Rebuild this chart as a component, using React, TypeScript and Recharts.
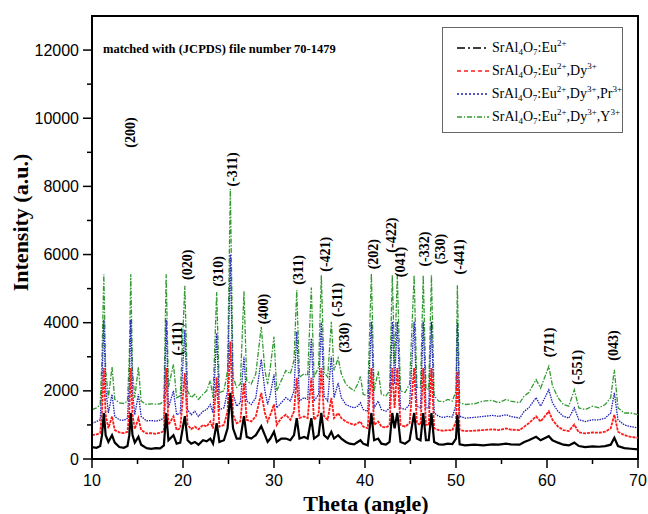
import {
  LineChart,
  Line,
  XAxis,
  YAxis,
  Legend,
  Label,
  ReferenceArea,
  ReferenceDot,
} from "recharts";

// 2-theta positions shared by all four patterns
const theta = [
  10.0, 10.5, 10.9, 11.1, 11.3, 11.5, 11.8, 12.2, 12.5, 13.0, 13.5, 13.9, 14.1,
  14.26, 14.45, 14.7, 15.1, 15.4, 16.0, 16.5, 17.0, 17.5, 17.9, 18.15, 18.4,
  18.95, 19.3, 19.7, 20.2, 20.5, 20.9, 21.3, 21.7, 22.2, 22.6, 23.0, 23.3, 23.7,
  24.0, 24.5, 24.9, 25.2, 25.5, 25.9, 26.3, 26.7, 27.0, 27.5, 28.0, 28.6, 29.0,
  29.3, 29.6, 30.0, 30.3, 30.8, 31.3, 31.8, 32.2, 32.5, 32.8, 33.3, 33.7, 34.1,
  34.4, 34.9, 35.2, 35.5, 35.9, 36.3, 36.6, 37.05, 37.4, 37.9, 38.3, 38.8, 39.2,
  39.5, 39.8, 40.3, 40.7, 41.0, 41.45, 41.8, 42.3, 42.7, 43.0, 43.25, 43.55,
  43.9, 44.4, 44.9, 45.4, 45.7, 46.1, 46.4, 46.7, 47.0, 47.3, 47.6, 48.1, 48.6,
  49.1, 49.6, 50.0, 50.15, 50.4, 51.0, 52.0, 53.0, 54.0, 54.7, 55.5, 56.0, 57.0,
  57.5, 58.0, 58.8, 59.3, 60.2, 60.6, 61.2, 61.8, 62.4, 63.0, 63.5, 64.2, 65.0,
  65.7, 66.4, 67.0, 67.4, 67.8, 68.5, 69.2, 70.0,
];

const eu = [
  350, 330, 380, 700, 1350, 700, 500, 700, 480, 350, 330, 380, 700, 1350, 700,
  480, 650, 420, 320, 300, 320, 310, 400, 1350, 550, 700, 450, 480, 1260, 550,
  450, 500, 420, 550, 520, 600, 450, 1050, 500, 550, 900, 1940, 900, 600, 600,
  1260, 650, 600, 700, 960, 700, 500, 600, 800, 500, 600, 600, 550, 700, 1200,
  600, 650, 600, 1200, 600, 700, 1350, 700, 600, 800, 600, 700, 600, 500, 450,
  430, 500, 550, 450, 400, 1350, 550, 600, 450, 420, 500, 1350, 900, 1350, 500,
  450, 550, 1350, 600, 550, 1350, 550, 550, 1350, 500, 430, 420, 450, 440, 600,
  1300, 430, 400, 420, 400, 430, 420, 450, 430, 420, 500, 550, 650, 550, 670,
  550, 480, 420, 400, 480, 380, 350, 370, 360, 380, 420, 620, 380, 320, 300, 280,
];

const euDy = [
  700, 720, 760, 1400, 2670, 1300, 900, 1250, 850, 780, 760, 800, 1400, 2670,
  1300, 880, 1200, 850, 750, 760, 740, 770, 820, 2670, 1000, 1250, 850, 900,
  2520, 1000, 880, 950, 870, 1000, 950, 1100, 900, 2400, 950, 1000, 1400, 3450,
  1300, 1050, 1100, 2230, 1150, 1100, 1250, 1940, 1350, 1100, 1300, 1600, 1000,
  1200, 1300, 1150, 1400, 2380, 1200, 1250, 1200, 2380, 1150, 1300, 2670, 1250,
  1150, 1790, 1200, 1350, 1200, 1100, 1050, 1000, 1050, 1100, 950, 900, 2670,
  1000, 1100, 950, 920, 1000, 2670, 1500, 2670, 1000, 950, 1050, 2670, 1050,
  1000, 2670, 1000, 1000, 2670, 900, 850, 830, 850, 840, 1100, 2570, 850, 820,
  830, 850, 870, 850, 900, 860, 850, 950, 1050, 1250, 1100, 1400, 1150, 950, 850,
  820, 1010, 780, 750, 780, 770, 800, 900, 1300, 800, 700, 650, 620,
];

const euDyPr = [
  1050, 1100, 1150, 2200, 4090, 2100, 1350, 1900, 1250, 1150, 1130, 1200, 2200,
  4090, 2000, 1300, 1900, 1250, 1120, 1130, 1110, 1140, 1200, 4090, 1500, 2000,
  1300, 1350, 3790, 1450, 1300, 1400, 1250, 1400, 1450, 1600, 1350, 3690, 1450,
  1500, 2000, 6000, 1900, 1550, 1650, 3000, 1700, 1600, 1800, 2920, 2000, 1600,
  1900, 2480, 1500, 1650, 1800, 1700, 2000, 3740, 1700, 1800, 1750, 3540, 1700,
  1900, 4030, 1850, 1700, 3010, 1800, 2230, 1800, 1600, 1550, 1500, 1550, 1650,
  1450, 1400, 4030, 1500, 1700, 1450, 1400, 1500, 4030, 2200, 4030, 1500, 1450,
  1600, 4030, 1550, 1500, 4030, 1500, 1500, 4030, 1350, 1250, 1220, 1250, 1230,
  1600, 4000, 1250, 1200, 1220, 1250, 1280, 1250, 1300, 1250, 1200, 1400, 1500,
  1800, 1550, 2030, 1650, 1400, 1250, 1200, 1500, 1150, 1100, 1150, 1150, 1200,
  1350, 1940, 1150, 1000, 950, 910,
];

const euDyY = [
  1450, 1500, 1600, 3000, 5420, 2600, 1800, 2700, 1750, 1650, 1630, 1700, 3000,
  5420, 2600, 1800, 2700, 1700, 1600, 1620, 1610, 1620, 1700, 5420, 2100, 2780,
  1800, 1850, 5080, 2000, 1800, 1900, 1750, 1900, 2000, 2300, 1800, 4900, 1950,
  2000, 2600, 7920, 2400, 2100, 2200, 4920, 2300, 2200, 2500, 3880, 2600, 2200,
  2700, 3590, 2000, 2300, 2600, 2500, 2900, 4950, 2400, 2500, 2450, 5030, 2400,
  2700, 5390, 2550, 2400, 4030, 2600, 2960, 2500, 2200, 2100, 2000, 2200, 2420,
  1900, 1850, 5440, 2000, 2570, 1900, 1850, 2000, 5390, 2800, 5390, 2000, 1950,
  2200, 5390, 2100, 2100, 5390, 2050, 2050, 5390, 1850, 1700, 1680, 1750, 1700,
  2000, 5100, 1650, 1600, 1620, 1700, 1720, 1650, 1750, 1700, 1650, 1850, 1950,
  2330, 2080, 2720, 2150, 1800, 1600, 1550, 2030, 1500, 1450, 1550, 1500, 1600,
  1800, 2620, 1500, 1350, 1350, 1300,
];

// Miller index labels above the peaks
const peakLabels = [
  "(200)", "(-111)", "(020)", "(310)", "(-311)", "(400)", "(311)", "(-421)",
  "(-511)", "(330)", "(202)", "(-422)", "(041)", "(-332)", "(530)", "(-441)",
  "(711)", "(-551)", "(043)",
];
const peakLabelTheta = [
  14.2, 19.3, 20.4, 23.9, 25.4, 28.8, 32.6, 35.6, 36.9, 37.7, 40.9, 42.9, 43.9,
  46.5, 48.3, 50.3, 60.2, 63.3, 67.3,
];
const peakLabelY = [
  9580, 3530, 5700, 5510, 8500, 4400, 5550, 6010, 4670, 3560, 6010, 6570, 5780,
  6160, 6160, 5930, 3420, 2690, 3330,
];

const seriesNames = [
  "SrAl4O7:Eu2+",
  "SrAl4O7:Eu2+,Dy3+",
  "SrAl4O7:Eu2+,Dy3+,Pr3+",
  "SrAl4O7:Eu2+,Dy3+,Y3+",
];

const xTicks = [10, 15, 20, 25, 30, 35, 40, 45, 50, 55, 60, 65, 70];
const yTicks = [
  0, 1000, 2000, 3000, 4000, 5000, 6000, 7000, 8000, 9000, 10000, 11000, 12000,
];

const data = theta.map((t, i) => ({
  theta: t,
  eu: eu[i],
  euDy: euDy[i],
  euDyPr: euDyPr[i],
  euDyY: euDyY[i],
}));

const serif = "'Liberation Serif', 'Times New Roman', serif";
const sans = "'Liberation Sans', Arial, sans-serif";

const YTick = (props: any) => {
  const { x, y, payload } = props;
  const major = payload.value % 2000 === 0;
  return (
    <g>
      <line x1={x} x2={x - (major ? 9 : 5)} y1={y} y2={y} stroke="#000" strokeWidth={1.5} />
      {major && (
        <text x={x - 13} y={y} textAnchor="end" dominantBaseline="central" fontSize={16} fontFamily={sans} fill="#000">
          {payload.value}
        </text>
      )}
    </g>
  );
};

const XTick = (props: any) => {
  const { x, y, payload } = props;
  const major = payload.value % 10 === 0;
  return (
    <g>
      <line x1={x} x2={x} y1={y} y2={y + (major ? 9 : 5)} stroke="#000" strokeWidth={1.5} />
      {major && (
        <text x={x} y={y + 21} textAnchor="middle" dominantBaseline="central" fontSize={16} fontFamily={sans} fill="#000">
          {payload.value}
        </text>
      )}
    </g>
  );
};

const YTitle = (props: any) => {
  const { viewBox } = props;
  const cx = viewBox.x + 20;
  const cy = viewBox.y + viewBox.height / 2 - 15;
  return (
    <text x={cx} y={cy} transform={`rotate(-90 ${cx} ${cy})`} textAnchor="middle" dominantBaseline="central"
      fontSize={22} fontWeight="bold" fontFamily={serif} fill="#000">
      Intensity (a.u.)
    </text>
  );
};

const XTitle = (props: any) => {
  const { viewBox } = props;
  const cx = viewBox.x + viewBox.width / 2 + 1;
  return (
    <text x={cx} y={viewBox.y + 44} textAnchor="middle" dominantBaseline="central"
      fontSize={22} fontWeight="bold" fontFamily={serif} fill="#000">
      Theta (angle)
    </text>
  );
};

// "SrAl4O7:Eu2+,Dy3+" -> rich text with sub/superscripts
const Formula = ({ name }: { name: string }) => {
  const parts = name.split(":");
  const ions = parts[1].split(",");
  return (
    <span>
      SrAl<sub>4</sub>O<sub>7</sub>:
      {ions.map((ion, i) => {
        const m = ion.match(/^([A-Za-z]+)(.*)$/)!;
        return (
          <span key={i}>
            {i > 0 ? "," : ""}
            {m[1]}
            <sup>{m[2]}</sup>
          </span>
        );
      })}
    </span>
  );
};

const dashes = ["8 3 2 3", "4 3", "2 2", "5 2 1 2"];

const LegendBox = (props: any) => {
  const { payload } = props;
  const items = [...(payload || [])].sort(
    (a: any, b: any) => seriesNames.indexOf(a.value) - seriesNames.indexOf(b.value)
  );
  return (
    <div style={{ border: "1px solid #666", width: 181, height: 106, boxSizing: "border-box", background: "#fff", paddingTop: 8 }}>
      {items.map((item: any, i: number) => (
        <div key={i} style={{ display: "flex", alignItems: "center", height: 23, fontFamily: serif, fontSize: 14, color: "#000" }}>
          <svg width={48} height={10} style={{ marginLeft: 14 }}>
            <line x1={0} x2={32} y1={5} y2={5} stroke={item.color} strokeWidth={1.3} strokeDasharray={dashes[i]} />
          </svg>
          <span style={{ lineHeight: 1, marginLeft: -13 }}>
            <Formula name={item.value} />
          </span>
        </div>
      ))}
    </div>
  );
};

export default function App() {
  return (
    <div style={{ position: "absolute", left: 0, top: 0, width: 648, height: 514, background: "#fff" }}>
      <style>{`sub, sup { font-size: 9px; line-height: 0; } sub { vertical-align: -3px; } sup { vertical-align: 6px; }`}</style>
      <LineChart width={648} height={514} data={data} margin={{ top: 16, right: 10, left: 0, bottom: 0 }}>
        <XAxis
          dataKey="theta"
          type="number"
          domain={[10, 70]}
          ticks={xTicks}
          interval={0}
          tick={<XTick />}
          tickLine={false}
          tickSize={0}
          tickMargin={0}
          height={55}
          axisLine={{ stroke: "#000", strokeWidth: 2 }}
        >
          <Label content={XTitle} />
        </XAxis>
        <YAxis
          type="number"
          domain={[0, 13000]}
          ticks={yTicks}
          interval={0}
          tick={<YTick />}
          tickLine={false}
          tickSize={0}
          tickMargin={0}
          width={92}
          axisLine={{ stroke: "#000", strokeWidth: 2 }}
        >
          <Label content={YTitle} />
        </YAxis>
        <ReferenceArea x1={10} x2={70} y1={0} y2={13000} fill="none" stroke="#000" strokeWidth={2} />
        <Line dataKey="euDyY" name={seriesNames[3]} stroke="#339933" strokeWidth={1.3} strokeDasharray="5 1.5 1.5 1.5" dot={false} isAnimationActive={false} type="linear" />
        <Line dataKey="euDyPr" name={seriesNames[2]} stroke="#1f1fb8" strokeWidth={1.3} strokeDasharray="1.5 1" dot={false} isAnimationActive={false} type="linear" />
        <Line dataKey="euDy" name={seriesNames[1]} stroke="#ff1a1a" strokeWidth={1.8} strokeDasharray="3 1" dot={false} isAnimationActive={false} type="linear" />
        <Line dataKey="eu" name={seriesNames[0]} stroke="#000" strokeWidth={2.2} dot={false} isAnimationActive={false} type="linear" />
        {peakLabels.map((lbl, i) => (
          <ReferenceDot
            key={lbl}
            x={peakLabelTheta[i]}
            y={peakLabelY[i]}
            r={0}
            fill="none"
            stroke="none"
            label={{ value: lbl, angle: -90, position: "center", fontSize: 14, fontWeight: "bold", fontFamily: serif, fill: "#000" }}
          />
        ))}
        <Legend
          layout="vertical"
          align="center"
          verticalAlign="middle"
          content={LegendBox}
          wrapperStyle={{ left: 442, top: 27, width: 181 }}
        />
      </LineChart>
      <div style={{ position: "absolute", left: 103, top: 42, fontFamily: serif, fontWeight: "bold", fontSize: 12.5, color: "#000", whiteSpace: "nowrap" }}>
        matched with (JCPDS) file number 70-1479
      </div>
    </div>
  );
}
